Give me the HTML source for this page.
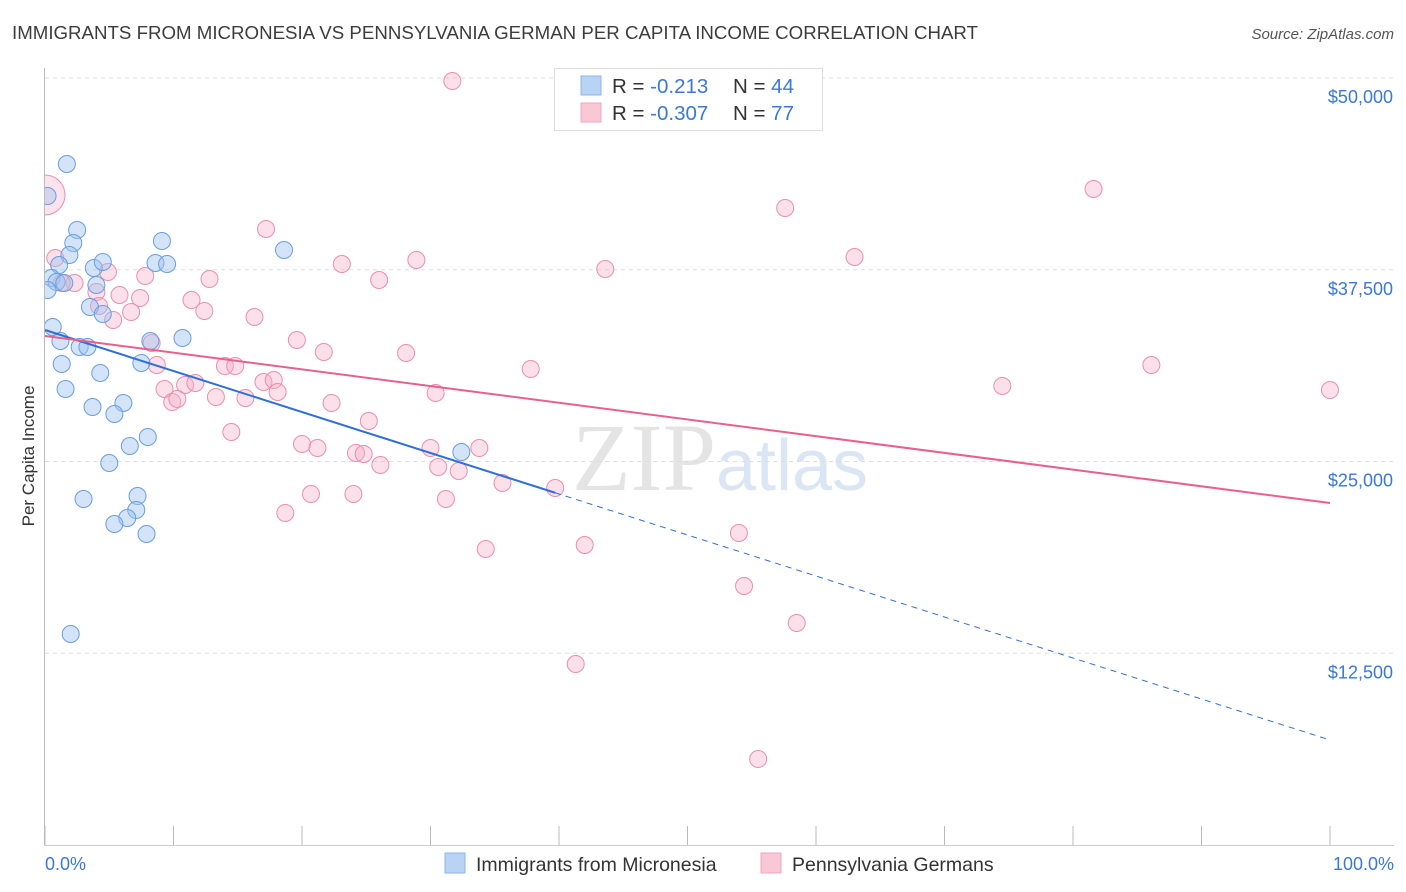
<!DOCTYPE html>
<html><head><meta charset="utf-8">
<style>
body{margin:0;background:#fff;font-family:"Liberation Sans",sans-serif;}
svg{display:block}
</style></head>
<body>
<svg id="chart" width="1406" height="892" viewBox="0 0 1406 892" xmlns="http://www.w3.org/2000/svg">
<defs><clipPath id="plotclip"><rect x="45" y="60" width="1360" height="786"/></clipPath></defs>
<text x="12" y="39" font-size="18" fill="#3c3c3c" textLength="966" lengthAdjust="spacingAndGlyphs">IMMIGRANTS FROM MICRONESIA VS PENNSYLVANIA GERMAN PER CAPITA INCOME CORRELATION CHART</text>
<text x="1394" y="39" font-size="15" fill="#555" font-style="italic" text-anchor="end">Source: ZipAtlas.com</text>
<text x="720" y="490" font-size="96" text-anchor="middle" font-family="Liberation Serif,serif" fill="#e4e4e4"><tspan>ZIP</tspan><tspan fill="#dbe6f4" font-family="Liberation Sans,sans-serif" font-size="72">atlas</tspan></text>
<g id="grid"></g>
<line x1="44.5" y1="68" x2="44.5" y2="846" stroke="#bbb"/>
<line x1="44" y1="845.5" x2="1394" y2="845.5" stroke="#ccc"/>
<g id="ticks"></g>
<text transform="translate(34,456) rotate(-90)" font-size="17" fill="#333" text-anchor="middle">Per Capita Income</text>
<text x="45" y="870" font-size="18" fill="#3a78d8">0.0%</text>
<text x="1394" y="870" font-size="18" fill="#3a78d8" text-anchor="end">100.0%</text>
<g id="points" clip-path="url(#plotclip)"></g>
<g id="lines"></g>
<g>
<rect x="554.5" y="68.5" width="268" height="62" fill="#fff" stroke="#ddd"/>
<rect x="581" y="76" width="20" height="19" fill="#b9d3f5" stroke="#8fb4e8"/>
<rect x="581" y="103" width="20" height="19" fill="#f9c8d6" stroke="#f0a5bd"/>
<text x="612" y="93" font-size="20.5" fill="#333">R = <tspan fill="#3a78d8"> -0.213</tspan><tspan x="733">N = </tspan><tspan fill="#3a78d8">44</tspan></text>
<text x="612" y="120" font-size="20.5" fill="#333">R = <tspan fill="#3a78d8">-0.307</tspan><tspan x="733">N = </tspan><tspan fill="#3a78d8"> 77</tspan></text>
</g>
<g>
<rect x="445" y="853" width="20" height="20" fill="#b9d3f5" stroke="#8fb4e8"/>
<text x="476" y="871" font-size="19.5" fill="#333">Immigrants from Micronesia</text>
<rect x="761" y="853" width="20" height="20" fill="#f9c8d6" stroke="#f0a5bd"/>
<text x="792" y="871" font-size="19.5" fill="#333">Pennsylvania Germans</text>
</g>
</svg>
<script>
const yTicks=[12500,25000,37500,50000];
const yTickLabels=["$12,500","$25,000","$37,500","$50,000"];
const blueX=[1.7,0.2,2.5,2.2,9.1,1.9,8.6,9.5,1.1,3.8,4.5,0.5,0.9,0.2,4.0,3.5,4.5,0.6,1.2,8.2,10.7,2.7,3.3,1.3,7.5,4.3,1.6,3.7,6.1,5.4,8.0,6.6,5.0,18.6,32.4,7.2,3.0,7.1,6.4,5.4,7.9,2.0,1.5];
const blueY=[44394,42308,40092,39244,39375,38462,37940,37875,37810,37614,38006,36963,36702,36180,36506,35072,34616,33768,32856,32856,33051,32465,32465,31356,31422,30770,29727,28553,28814,28097,26598,26011,24903,38788,25620,22752,22556,21839,21317,20926,20274,13755,36637];
const pinkX=[31.7,81.6,57.6,17.2,63.0,28.9,23.1,43.6,26.0,0.8,4.9,7.8,12.8,2.3,1.3,4.0,5.8,7.4,11.4,4.2,6.7,12.4,5.3,16.3,19.6,21.7,28.1,8.3,37.8,86.1,14.0,14.8,8.7,17.0,17.8,74.5,100,9.3,10.9,30.4,11.7,18.1,13.3,15.6,9.9,10.3,22.3,25.2,14.5,20.0,21.2,30.0,33.8,24.2,24.8,26.1,30.6,32.2,35.6,39.7,20.7,24.0,31.2,18.7,54.0,42.0,34.3,54.4,58.5,41.3,55.5];
const pinkY=[49805,42765,41526,40157,38332,38136,37875,37549,36832,38267,37354,37093,36898,36637,36637,36050,35855,35659,35529,35137,34746,34811,34225,34420,32921,32139,32074,32726,31030,31291,31226,31226,31291,30183,30313,29922,29661,29727,29987,29466,30118,29531,29205,29140,28879,29075,28814,27641,26924,26141,25881,25881,25881,25555,25489,24772,24642,24381,23599,23273,22882,22882,22556,21643,20339,19557,19296,16884,14472,11799,5606];
const blueTrend=[33573,6845];
const pinkTrend=[33182,22295];
const blueSolidEnd=39.7;
const NS="http://www.w3.org/2000/svg";
const xs=v=>45+v/100*1285;
const ys=v=>845-v/50000*767;
function mk(tag,attrs,parent){const e=document.createElementNS(NS,tag);for(const k in attrs)e.setAttribute(k,attrs[k]);parent.appendChild(e);return e;}
const grid=document.getElementById('grid'),ticks=document.getElementById('ticks'),pts=document.getElementById('points'),lines=document.getElementById('lines');
yTicks.forEach((t,i)=>{
 const l=mk('line',{x1:45,x2:1394,y1:ys(t),y2:ys(t),stroke:'#ddd','stroke-dasharray':'4,4'},grid);
 
 
 const tx=mk('text',{x:1393,y:ys(t)+25,'font-size':18,fill:'#3a78d8','text-anchor':'end'},ticks);
 tx.textContent=yTickLabels[i];
 
 
});
for(let i=0;i<=10;i++){
 const l=mk('line',{x1:xs(i*10),x2:xs(i*10),y1:826,y2:845,stroke:'#bbb'},ticks);
 
 
}
const big=mk('circle',{cx:xs(0),cy:ys(42374),r:20,fill:'rgba(246,176,200,0.35)',stroke:'#ea8fae','stroke-width':1},pts);


pinkX.forEach((x,i)=>{
 const c=mk('circle',{cx:xs(x),cy:ys(pinkY[i]),r:8.5,fill:'rgba(246,176,200,0.4)',stroke:'#ea8fae','stroke-width':1},pts);
 
 
});
blueX.forEach((x,i)=>{
 const c=mk('circle',{cx:xs(x),cy:ys(blueY[i]),r:8.5,fill:'rgba(160,196,240,0.45)',stroke:'#6a9de0','stroke-width':1},pts);
 
 
});
const bAt=p=>blueTrend[0]+(blueTrend[1]-blueTrend[0])*p/100;
const pAt=p=>pinkTrend[0]+(pinkTrend[1]-pinkTrend[0])*p/100;
let l1=mk('line',{x1:xs(0),y1:ys(bAt(0)),x2:xs(blueSolidEnd),y2:ys(bAt(blueSolidEnd)),stroke:'#2f6fd8','stroke-width':2},lines);


let l2=mk('line',{x1:xs(blueSolidEnd),y1:ys(bAt(blueSolidEnd)),x2:xs(100),y2:ys(bAt(100)),stroke:'#2f6fd8','stroke-width':1,'stroke-dasharray':'6,5'},lines);


let l3=mk('line',{x1:xs(0),y1:ys(pAt(0)),x2:xs(100),y2:ys(pAt(100)),stroke:'#e8608e','stroke-width':2},lines);


</script>
</body></html>
